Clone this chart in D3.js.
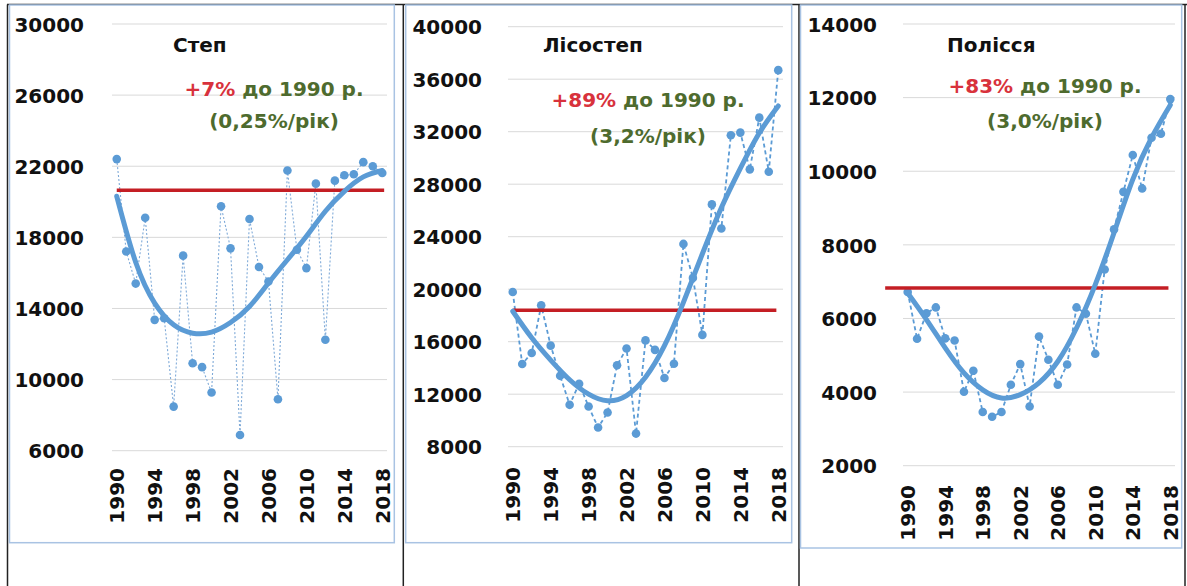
<!DOCTYPE html>
<html>
<head>
<meta charset="utf-8">
<script src="https://cdn.jsdelivr.net/npm/d3@7/dist/d3.min.js"></script>
<style>
  body { margin: 0; background: #fff; }
  svg { display: block; }
  text { font-family: "DejaVu Sans", sans-serif; font-weight: bold; }
</style>
</head>
<body>
<svg id="chart" width="1187" height="586"></svg>
<script>
// ---- data ----
const years = [1990, 1991, 1992, 1993, 1994, 1995, 1996, 1997, 1998, 1999,
               2000, 2001, 2002, 2003, 2004, 2005, 2006, 2007, 2008, 2009,
               2010, 2011, 2012, 2013, 2014, 2015, 2016, 2017, 2018];
const yearTicks = [1990, 1994, 1998, 2002, 2006, 2010, 2014, 2018];
const trendYears = [1990, 1992, 1994, 1996, 1998, 2000, 2002, 2004,
                    2006, 2008, 2010, 2012, 2014, 2016, 2018];

const stepValues = [22400, 17200, 15400, 19100, 13360, 13450, 8480, 16970, 10920, 10700,
                    9270, 19750, 17380, 6880, 19030, 16330, 15520, 8890, 21760, 17300,
                    16270, 21020, 12240, 21190, 21490, 21550, 22230, 22000, 21620];
const stepTrend = [20310, 16600, 14300, 13080, 12610, 12670, 13210, 14110,
                   15430, 16740, 18060, 19470, 20590, 21400, 21760];
const stepLevel = 20650;
const stepTicks = [6000, 10000, 14000, 18000, 22000, 26000, 30000];

const lisostepValues = [19790, 14300, 15140, 18770, 15700, 13400, 11190, 12800, 11060, 9460,
                        10610, 14200, 15480, 9000, 16100, 15380, 13240, 14320, 23450, 20860,
                        16520, 26460, 24630, 31730, 31930, 29130, 33070, 28950, 36690];
const lisostepTrend = [18320, 16300, 14600, 13100, 12000, 11500, 11900, 13300,
                       15700, 19000, 22700, 26200, 29200, 31900, 33960];
const lisostepLevel = 18400;
const lisostepTicks = [8000, 12000, 16000, 20000, 24000, 28000, 32000, 36000, 40000];

const polissyaValues = [6720, 5450, 6140, 6300, 5460, 5400, 4010, 4580, 3460, 3330,
                        3460, 4200, 4760, 3610, 5510, 4880, 4200, 4750, 6300, 6130,
                        5040, 7330, 8420, 9440, 10440, 9530, 10910, 11020, 11960];
const polissyaTrend = [6690, 5970, 5200, 4520, 4060, 3840, 3930, 4250,
                       4830, 5740, 6920, 8330, 9780, 10910, 11800];
const polissyaLevel = 6830;
const polissyaTicks = [2000, 4000, 6000, 8000, 10000, 12000, 14000];

// ---- panel layout ----
const panels = [
  {
    title: "Степ", pct: "+7%", rate: "(0,25%/рік)",
    values: stepValues, trend: stepTrend, level: stepLevel, ticks: stepTicks,
    yDomain: [6000, 30000],
    box: [9.5, 5, 394.3, 542.7],
    gridX: [112, 387], plotY: [450.7, 24],
    tickRight: 84, xLabelTop: 468,
    titleX: 173, titleY: 52, annX: 274, annY1: 96, annY2: 128,
    levelSpan: [1990, 2018.2],
    dash: "2,2", dashWidth: 1.1, dashColor: "#7faad8"
  },
  {
    title: "Лісостеп", pct: "+89%", rate: "(3,2%/рік)",
    values: lisostepValues, trend: lisostepTrend, level: lisostepLevel, ticks: lisostepTicks,
    yDomain: [8000, 40000],
    box: [405.7, 5, 791.7, 542.7],
    gridX: [508, 783], plotY: [446.7, 26.7],
    tickRight: 482, xLabelTop: 467,
    titleX: 543, titleY: 52, annX: 648, annY1: 107, annY2: 143,
    levelSpan: [1990, 2017.8],
    dash: "4,3", dashWidth: 1.8, dashColor: "#5b9bd5"
  },
  {
    title: "Полісся", pct: "+83%", rate: "(3,0%/рік)",
    values: polissyaValues, trend: polissyaTrend, level: polissyaLevel, ticks: polissyaTicks,
    yDomain: [2000, 14000],
    box: [800.5, 5, 1181.7, 548],
    gridX: [903, 1175], plotY: [465.7, 24],
    tickRight: 877, xLabelTop: 485,
    titleX: 947, titleY: 52, annX: 1045, annY1: 93, annY2: 128,
    levelSpan: [1987.6, 2017.8],
    dash: "4,3", dashWidth: 1.8, dashColor: "#5b9bd5"
  }
];

const blue = "#5b9bd5";
const red = "#c41e24";
const svg = d3.select("#chart");

// table rules around the three cells
const rules = svg.append("g").attr("stroke", "#222").attr("stroke-width", 1.5);
rules.append("line").attr("x1", 7).attr("x2", 1187).attr("y1", 4.5).attr("y2", 4.5);
[7.5, 403.3, 799, 1185].forEach(x =>
  rules.append("line").attr("x1", x).attr("x2", x).attr("y1", 4.5).attr("y2", 586));

panels.forEach(p => {
  const g = svg.append("g");
  const [bx0, by0, bx1, by1] = p.box;
  g.append("rect")
    .attr("x", bx0).attr("y", by0).attr("width", bx1 - bx0).attr("height", by1 - by0)
    .attr("fill", "#fff").attr("stroke", "#a9c3e3").attr("stroke-width", 1.5);

  const x = d3.scaleLinear().domain([1989.5, 2018.5]).range(p.gridX);
  const y = d3.scaleLinear().domain(p.yDomain).range(p.plotY);

  // gridlines
  g.append("g").selectAll("line").data(p.ticks).join("line")
    .attr("x1", p.gridX[0]).attr("x2", p.gridX[1])
    .attr("y1", d => y(d)).attr("y2", d => y(d))
    .attr("stroke", "#d9d9d9").attr("stroke-width", 1);

  // value axis
  const yAxis = g.append("g").attr("transform", `translate(${p.tickRight},0)`)
    .call(d3.axisLeft(y).tickValues(p.ticks).tickFormat(d3.format("d")).tickSize(0).tickPadding(0));
  yAxis.select(".domain").remove();
  yAxis.selectAll("text").attr("font-size", 20).attr("fill", "#111")
    .attr("font-family", "DejaVu Sans").attr("font-weight", "bold").attr("dy", "0.36em");

  // year axis, labels rotated
  const xAxis = g.append("g").attr("transform", `translate(0,${p.xLabelTop})`)
    .call(d3.axisBottom(x).tickValues(yearTicks).tickFormat(d3.format("d")).tickSize(0).tickPadding(0));
  xAxis.select(".domain").remove();
  xAxis.selectAll("text")
    .attr("font-size", 20).attr("fill", "#111")
    .attr("font-family", "DejaVu Sans").attr("font-weight", "bold")
    .attr("transform", "rotate(-90)")
    .attr("text-anchor", "end")
    .attr("x", 0).attr("y", 0).attr("dy", "0.36em");

  // yearly series: dashed line with markers
  const pts = years.map((yr, i) => [yr, p.values[i]]);
  g.append("path").datum(pts)
    .attr("fill", "none").attr("stroke", p.dashColor).attr("stroke-width", p.dashWidth)
    .attr("stroke-dasharray", p.dash)
    .attr("d", d3.line().x(d => x(d[0])).y(d => y(d[1])));
  g.append("g").selectAll("circle").data(pts).join("circle")
    .attr("cx", d => x(d[0])).attr("cy", d => y(d[1])).attr("r", 4.3).attr("fill", blue);

  // 1990 reference level
  g.append("line")
    .attr("x1", x(p.levelSpan[0])).attr("x2", x(p.levelSpan[1]))
    .attr("y1", y(p.level)).attr("y2", y(p.level))
    .attr("stroke", red).attr("stroke-width", 3.5);

  // trend curve
  const tr = trendYears.map((yr, i) => [yr, p.trend[i]]);
  g.append("path").datum(tr)
    .attr("fill", "none").attr("stroke", blue).attr("stroke-width", 5)
    .attr("stroke-linecap", "round").attr("stroke-linejoin", "round")
    .attr("d", d3.line().curve(d3.curveNatural).x(d => x(d[0])).y(d => y(d[1])));

  // title and change annotation
  g.append("text").attr("x", p.titleX).attr("y", p.titleY)
    .attr("font-size", 20).attr("fill", "#111").text(p.title);
  const ann = g.append("text").attr("x", p.annX).attr("y", p.annY1)
    .attr("font-size", 20).attr("text-anchor", "middle");
  ann.append("tspan").attr("fill", "#d8323c").text(p.pct);
  ann.append("tspan").attr("fill", "#4e6b2e").text(" до 1990 р.");
  g.append("text").attr("x", p.annX).attr("y", p.annY2)
    .attr("font-size", 20).attr("text-anchor", "middle").attr("fill", "#4e6b2e").text(p.rate);
});
</script>
</body>
</html>
